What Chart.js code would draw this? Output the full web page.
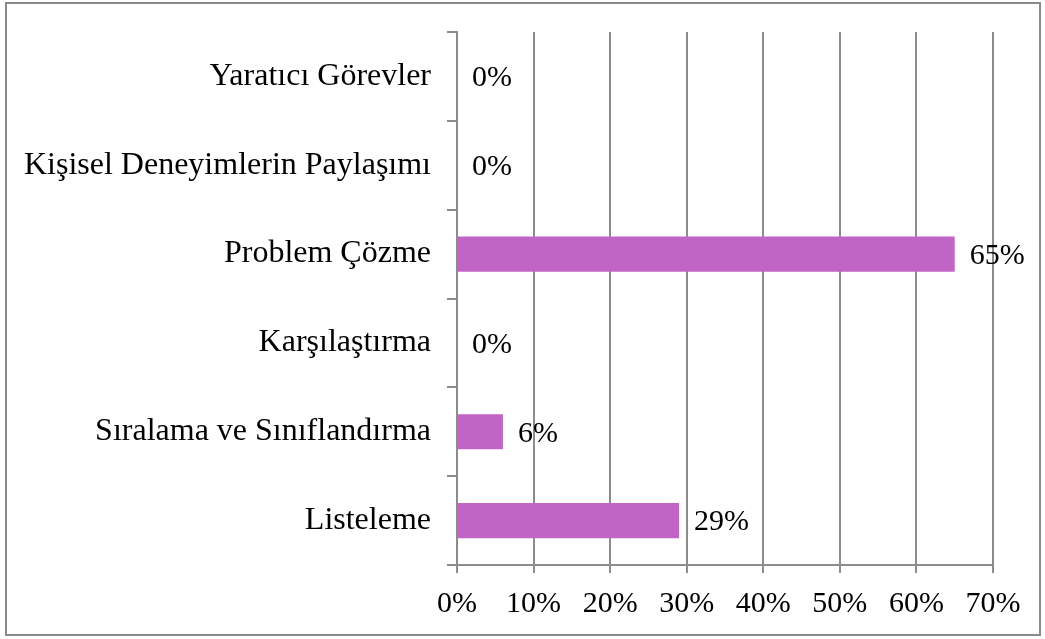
<!DOCTYPE html>
<html>
<head>
<meta charset="utf-8">
<script src="https://cdn.jsdelivr.net/npm/chart.js@4/dist/chart.umd.min.js"></script>
<style>
  html, body { margin: 0; padding: 0; background: #fff; }
  #wrap { position: relative; width: 1045px; height: 639px; }
</style>
</head>
<body>
<div id="wrap"><canvas id="etkinlikChart" width="1045" height="639"></canvas></div>
<script>
const categories = ['Yaratıcı Görevler', 'Kişisel Deneyimlerin Paylaşımı', 'Problem Çözme', 'Karşılaştırma', 'Sıralama ve Sınıflandırma', 'Listeleme'];
const percentages = [0, 0, 65, 0, 6, 29];
const xTicks = [0, 10, 20, 30, 40, 50, 60, 70];

const gridColor = '#8c8c8c';

// white background plus the thin frame round the whole chart
const framePlugin = {
    id: 'frame',
    beforeDraw(chart) {
        const ctx = chart.ctx;
        ctx.save();
        ctx.fillStyle = '#fff';
        ctx.fillRect(0, 0, chart.width, chart.height);
        ctx.strokeStyle = '#8a8a8a';
        ctx.lineWidth = 2;
        ctx.strokeRect(6, 3, 1034, 632);
        ctx.restore();
    }
};

// value labels just right of each bar end
const valueLabels = {
    id: 'valueLabels',
    afterDatasetsDraw(chart) {
        const ctx = chart.ctx;
        const meta = chart.getDatasetMeta(0);
        ctx.save();
        ctx.fillStyle = '#000';
        ctx.font = '30px "Liberation Serif", "Times New Roman", serif';
        ctx.textAlign = 'left';
        ctx.textBaseline = 'middle';
        meta.data.forEach((bar, i) => {
            ctx.fillText(percentages[i] + '%', bar.x + 15, bar.y + 2);
        });
        ctx.restore();
    }
};

const ctx = document.getElementById('etkinlikChart').getContext('2d');
new Chart(ctx, {
    type: 'bar',
    data: {
        labels: categories,
        datasets: [{
            data: percentages,
            backgroundColor: '#c064c6',
            borderWidth: 0,
            barPercentage: 0.395,
            categoryPercentage: 1
        }]
    },
    options: {
        indexAxis: 'y',
        responsive: false,
        animation: false,
        layout: {
            padding: { left: 0, top: 32, right: 52, bottom: 0 }
        },
        scales: {
            x: {
                min: 0,
                max: 70,
                afterBuildTicks(scale) {
                    scale.ticks = xTicks.map(v => ({ value: v }));
                },
                afterFit(scale) {
                    scale.height = 74;
                },
                grid: {
                    color: gridColor,
                    lineWidth: 2,
                    tickLength: 8
                },
                border: { color: gridColor, width: 2 },
                ticks: {
                    color: '#000',
                    padding: 13,
                    maxRotation: 0,
                    font: { family: 'Liberation Serif', size: 30 },
                    callback: v => v + '%'
                }
            },
            y: {
                afterFit(scale) {
                    scale.width = 457;
                    scale.paddingTop = 0;
                    scale.paddingBottom = 0;
                },
                grid: {
                    color: gridColor,
                    lineWidth: 2,
                    drawOnChartArea: false,
                    tickLength: 10,
                    offset: true
                },
                border: { color: gridColor, width: 2 },
                ticks: {
                    color: '#000',
                    padding: 16,
                    font: { family: 'Liberation Serif', size: 32 }
                }
            }
        },
        plugins: {
            legend: { display: false },
            tooltip: { enabled: false }
        }
    },
    plugins: [framePlugin, valueLabels]
});
</script>
</body>
</html>
